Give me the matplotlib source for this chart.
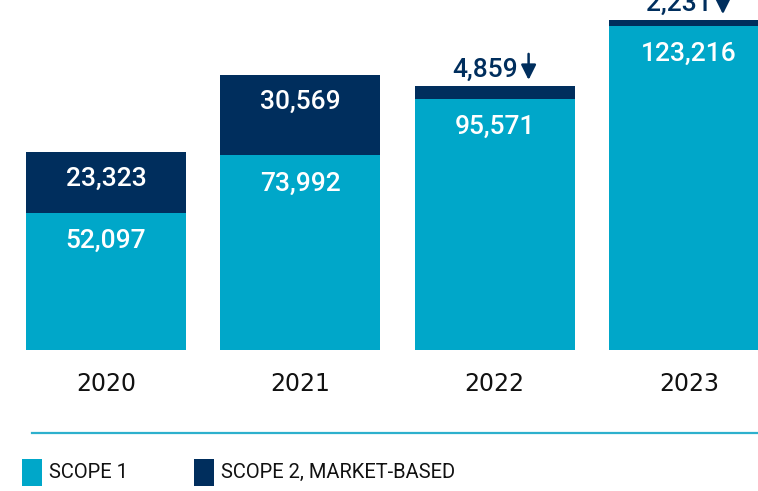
import matplotlib
matplotlib.use("Agg")
import matplotlib.pyplot as plt
from matplotlib.patches import Rectangle
from matplotlib.lines import Line2D
from matplotlib.transforms import offset_copy

years = ["2020", "2021", "2022", "2023"]
scope1 = [52097, 73992, 95571, 123216]
scope2 = [23323, 30569, 4859, 2231]
# years where scope 2 went down -> label sits above the bar with an arrow
scope2_down = [False, False, True, True]

LIGHT = "#00A7C9"
DARK = "#002E5D"
PX = 0.72  # points per pixel at dpi 100
NUM_FONT = ["Roboto", "DejaVu Sans"]

plt.rcParams["font.family"] = ["DejaVu Sans"]

fig = plt.figure(figsize=(7.58, 4.91), dpi=100)
ax = fig.add_axes([0, 141 / 491, 1, 350 / 491])
ax.set_xlim(-0.5455, 3.3556)
ax.set_ylim(0, 133100)
ax.axis("off")

x = list(range(len(years)))
width = 0.8235
ax.bar(x, scope1, width=width, color=LIGHT, linewidth=0)
ax.bar(x, scope2, width=width, bottom=scope1, color=DARK, linewidth=0)

num_style = dict(textcoords="offset points", ha="center", va="center",
                 fontsize=19, family=NUM_FONT, fontweight="medium")

for xi, s1, s2, down in zip(x, scope1, scope2, scope2_down):
    total = s1 + s2
    ax.annotate(f"{s1:,}", xy=(xi, s1), xytext=(0, -28 * PX), color="white", **num_style)
    if down:
        ax.annotate(f"{s2:,}", xy=(xi, total), xytext=(-10 * PX, 16 * PX),
                    color=DARK, annotation_clip=False, **num_style)
        tip = offset_copy(ax.transData, fig=fig, x=34 * PX, y=6 * PX, units="points")
        tail = offset_copy(ax.transData, fig=fig, x=34 * PX, y=32 * PX, units="points")
        ax.annotate("", xy=(xi, total), xycoords=tip, xytext=(xi, total), textcoords=tail,
                    arrowprops=dict(arrowstyle="-|>,head_length=0.9,head_width=0.45",
                                    color=DARK, lw=1.8, shrinkA=0, shrinkB=0),
                    annotation_clip=False)
    else:
        ax.annotate(f"{s2:,}", xy=(xi, total), xytext=(0, -27 * PX), color="white", **num_style)
    ax.annotate(years[xi], xy=(xi, 0), xytext=(0, -34 * PX), textcoords="offset points",
                ha="center", va="center", color="#111111", fontsize=17, annotation_clip=False)

# divider line above the legend
fig.add_artist(Line2D([32 / 758, 1], [1 - 433 / 491] * 2, color="#2DB0CD", lw=1.6))

# legend, drawn by hand
for x0, label, color in [(22, "SCOPE 1", LIGHT), (194, "SCOPE 2, MARKET-BASED", DARK)]:
    fig.add_artist(Rectangle((x0 / 758, 1 - 486 / 491), 20 / 758, 27 / 491,
                             transform=fig.transFigure, color=color, lw=0))
    fig.text((x0 + 27) / 758, 1 - 472 / 491, label, ha="left", va="center",
             fontsize=14.5, color="#111111", family=["Roboto", "DejaVu Sans"])

fig.savefig("out.png", dpi=100)
